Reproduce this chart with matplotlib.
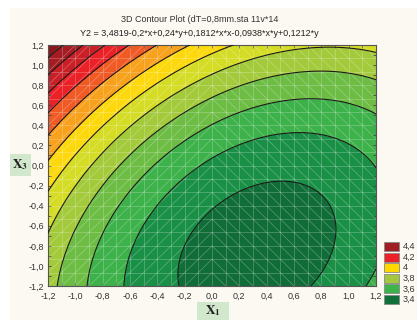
import numpy as np
import matplotlib
matplotlib.use('Agg')
import matplotlib.pyplot as plt
from matplotlib.patches import Rectangle
from matplotlib.collections import LineCollection
from matplotlib.ticker import FixedLocator, MultipleLocator

# ---- data ----
# Y2 = c0 + c1*x + c2*y + c3*x*x + c4*x*y + c5*y*y
coef = [3.4819, -0.2, 0.24, 0.1812, -0.0938, 0.1212]
levels = [3.3, 3.4, 3.5, 3.6, 3.7, 3.8, 3.9, 4.0, 4.1, 4.2, 4.3, 4.4, 4.5, 4.6]
band_colors = ['#106d38', '#1a9047', '#3db14a', '#6dbd45', '#a3ca3b', '#d5dc26',
               '#fcd80d', '#f7a11c', '#f05a25', '#ea2228', '#c92027', '#a51d22', '#8a1719']
legend_vals = ['4,4', '4,2', '4', '3,8', '3,6', '3,4']
legend_colors = ['#a01d22', '#ec2027', '#ffd800', '#a3c73d', '#3bb44a', '#11703a']
tick_vals = [-1.2, -1.0, -0.8, -0.6, -0.4, -0.2, 0.0, 0.2, 0.4, 0.6, 0.8, 1.0, 1.2]
tick_labels = ['-1,2', '-1,0', '-0,8', '-0,6', '-0,4', '-0,2', '0,0', '0,2', '0,4', '0,6', '0,8', '1,0', '1,2']
title1 = '3D Contour Plot (dT=0,8mm.sta 11v*14'
title2 = 'Y2 = 3,4819-0,2*x+0,24*y+0,1812*x*x-0,0938*x*y+0,1212*y'

plt.rcParams['font.family'] = ['Liberation Sans', 'DejaVu Sans']
plt.rcParams['mathtext.fontset'] = 'stix'

W, H = 417, 320
fig = plt.figure(figsize=(W / 100, H / 100), dpi=100, facecolor='white')
fig.patches.append(Rectangle((10 / W, 0), 1 - 10 / W, 1 - 8 / H, transform=fig.transFigure,
                             facecolor='#fcf9f2', edgecolor='none', zorder=-10))

ax = fig.add_axes([48 / W, 1 - 286 / H, (376 - 48) / W, (286 - 45) / H])

xg = np.linspace(-1.2, 1.2, 301)
yg = np.linspace(-1.2, 1.2, 301)
X, Y = np.meshgrid(xg, yg)
Z = coef[0] + coef[1] * X + coef[2] * Y + coef[3] * X * X + coef[4] * X * Y + coef[5] * Y * Y

ax.contourf(X, Y, Z, levels=levels, colors=band_colors, zorder=1)

# faint mesh
mx = np.linspace(-1.2, 1.2, 25)
my = np.linspace(-1.2, 1.2, 19)
segs = []
for xv in mx:
    segs.append([(xv, -1.2), (xv, 1.2)])
for yv in my:
    segs.append([(-1.2, yv), (1.2, yv)])
for i in range(len(mx) - 1):
    for j in range(len(my) - 1):
        x0, x1, y0, y1 = mx[i], mx[i + 1], my[j], my[j + 1]
        if (x0 + x1) / 2 < 0:
            segs.append([(x0, y0), (x1, y1)])
        else:
            segs.append([(x0, y1), (x1, y0)])
ax.add_collection(LineCollection(segs, colors='white', linewidths=0.5, alpha=0.3, zorder=2))

ax.contour(X, Y, Z, levels=levels[1:-1], colors='#1a1a1a', linewidths=0.8, zorder=3)

ax.set_xlim(-1.2, 1.2)
ax.set_ylim(-1.2, 1.2)
ax.xaxis.set_major_locator(FixedLocator(tick_vals))
ax.yaxis.set_major_locator(FixedLocator(tick_vals))
ax.set_xticklabels(tick_labels)
ax.set_yticklabels(tick_labels)
ax.xaxis.set_minor_locator(MultipleLocator(0.1))
ax.yaxis.set_minor_locator(MultipleLocator(0.1))
ax.tick_params(which='both', direction='in', top=True, right=True, length=2.5, width=0.6,
               color='#444444', labelsize=6.5, labelcolor='#333333')
ax.tick_params(axis='x', pad=4)
ax.tick_params(axis='y', pad=3)
for s in ax.spines.values():
    s.set_color('#555555')
    s.set_linewidth(0.8)

fig.text(200 / W, 1 - 20 / H, title1, ha='center', va='center', fontsize=6.5, color='#333333')
fig.text(199 / W, 1 - 34 / H, title2, ha='center', va='center', fontsize=6.5, color='#222222')

# axis label boxes
fig.patches.append(Rectangle((197 / W, 0), 32 / W, 18 / H, transform=fig.transFigure,
                             facecolor='#d2e8cc', edgecolor='none', zorder=-5))
fig.text(213 / W, 1 - 311 / H, r'$\mathbf{X}_{\mathbf{1}}$', ha='center', va='center', fontsize=9.5,
         color='#222222')
fig.patches.append(Rectangle((10 / W, 1 - 176 / H), 21 / W, 22 / H, transform=fig.transFigure,
                             facecolor='#d2e8cc', edgecolor='none', zorder=-5))
fig.text(20 / W, 1 - 165 / H, r'$\mathbf{X}_{\mathbf{3}}$', ha='center', va='center', fontsize=9.5,
         color='#222222')

# legend
for k, (lab, col) in enumerate(zip(legend_vals, legend_colors)):
    cy = 246.5 + k * 10.6
    fig.patches.append(Rectangle((384 / W, 1 - (cy + 4.5) / H), 15 / W, 9 / H, transform=fig.transFigure,
                                 facecolor=col, edgecolor='#888888', linewidth=0.6))
    fig.text(403 / W, 1 - cy / H, lab, ha='left', va='center', fontsize=6.5, color='#333333')

fig.savefig('out.png', dpi=100, facecolor=fig.get_facecolor())
